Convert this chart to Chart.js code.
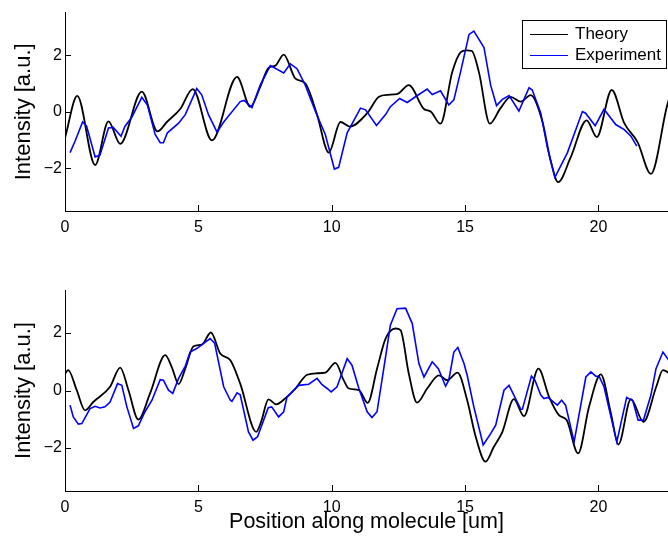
<!DOCTYPE html>
<html>
<head>
<meta charset="utf-8">
<script src="https://cdn.jsdelivr.net/npm/chart.js@4.4.1/dist/chart.umd.min.js"></script>
<style>
  body { margin: 0; background: #fff; }
  .panel { position: relative; width: 668px; }
</style>
</head>
<body>
<div class="panel" style="height:270px"><canvas id="topChart"></canvas></div>
<div class="panel" style="height:271px"><canvas id="bottomChart"></canvas></div>
<script>
// values, [position, intensity]
const seriesLabels = ['Theory', 'Experiment'];
const xLimits = [0, 22.61];
const yLimits = [-3.5, 3.5];
const xStep = 5;   // ticks 0 5 10 15 20
const yStep = 2;   // ticks -2 0 2

const topTheory = [
  [0,-0.92],[0.46,0.56],[1.13,-1.88],[1.63,-0.34],[2.07,-1.13],[2.88,0.71],[3.47,-0.69],
  [3.82,-0.36],[4.32,0.1],[4.79,0.80],[5.51,-1.01],[6.45,1.23],[6.95,0.18],[7.32,0.88],
  [7.63,1.55],[7.89,1.63],[8.20,2.02],[8.64,1.17],[9.01,1.0],[9.45,-0.1],[9.89,-1.44],
  [10.33,-0.36],[10.68,-0.52],[11.33,-0.05],[11.77,0.53],[12.1,0.60],[12.45,0.62],
  [12.89,0.94],[13.46,0.1],[13.71,0.01],[14.08,-0.42],[14.52,1.40],[14.83,2.10],
  [15.05,2.17],[15.25,2.15],[15.52,1.40],[15.93,-0.42],[16.33,0.13],[16.71,0.53],
  [17.09,0.36],[17.46,0.59],[17.9,-0.34],[18.21,-1.73],[18.49,-2.48],[18.96,-1.61],
  [19.56,-0.30],[19.94,-0.89],[20.5,0.77],[20.97,-0.40],[21.47,-1.07],[21.97,-2.19],
  [22.6,0.30],[23.0,1.2]
];
const topExperiment = [
  [0.19,-1.44],[0.38,-1.03],[0.66,-0.36],[0.81,-0.51],[1.13,-1.59],[1.31,-1.53],[1.63,-0.57],
  [1.81,-0.55],[2.10,-0.86],[2.25,-0.51],[2.50,-0.20],[2.88,0.51],[3.09,0.24],[3.38,-0.80],
  [3.57,-1.09],[3.69,-1.09],[3.84,-0.74],[4.26,-0.40],[4.51,-0.10],[4.94,0.82],[5.13,0.59],
  [5.38,-0.10],[5.70,-0.72],[5.95,-0.36],[6.57,0.36],[6.72,0.40],[7.01,0.15],[7.32,0.94],
  [7.70,1.63],[8.20,1.37],[8.45,1.69],[8.70,1.52],[9.01,0.94],[9.39,0.01],[9.76,-0.80],
  [10.10,-2.02],[10.26,-1.96],[10.58,-0.74],[11.08,0.13],[11.27,0.07],[11.68,-0.48],
  [12.02,-0.10],[12.20,0.18],[12.55,0.47],[12.83,0.33],[13.14,0.53],[13.58,0.80],[13.77,0.61],
  [14.08,0.74],[14.39,0.24],[14.58,0.42],[14.83,1.40],[15.15,2.73],[15.33,2.85],[15.71,2.27],
  [15.96,0.94],[16.18,0.22],[16.40,0.44],[16.65,0.57],[17.02,0.03],[17.40,0.85],[17.52,0.77],
  [17.84,-0.05],[18.09,-1.27],[18.37,-2.31],[18.84,-1.44],[19.40,0.01],[19.52,-0.05],
  [19.88,-0.49],[20.21,0.09],[20.65,-0.45],[20.97,-0.63],[21.22,-0.86],[21.44,-1.21]
];
const bottomTheory = [
  [0,0.59],[0.12,0.71],[0.44,0.01],[0.75,-0.69],[1.06,-0.40],[1.69,0.13],[2.07,0.80],
  [2.38,0.01],[2.75,-1.01],[3.19,-0.1],[3.76,1.23],[4.01,0.80],[4.26,0.22],[4.51,0.76],
  [4.82,1.54],[5.13,1.60],[5.47,2.02],[5.82,1.29],[6.20,1.05],[6.57,0.24],[7.17,-1.44],
  [7.35,-1.1],[7.63,-0.31],[7.92,-0.48],[8.32,-0.22],[8.64,0.07],[9.08,0.55],[9.45,0.60],
  [9.76,0.62],[10.14,0.96],[10.45,0.36],[10.64,0.07],[11.02,0.01],[11.35,-0.43],[11.70,0.76],
  [12.02,1.81],[12.39,2.16],[12.58,2.10],[12.89,0.59],[13.20,-0.42],[13.58,0.07],[14.02,0.53],
  [14.33,0.36],[14.72,0.62],[15.08,-0.34],[15.40,-1.61],[15.77,-2.48],[16.08,-1.96],
  [16.40,-1.44],[16.83,-0.30],[17.21,-0.89],[17.75,0.76],[18.15,-0.22],[18.52,-0.86],
  [18.81,-1.03],[19.24,-2.19],[19.65,-0.57],[20.09,0.56],[20.47,-0.80],[20.75,-1.88],
  [21.22,-0.30],[21.69,-1.09],[22.17,0.13],[22.42,0.71],[22.9,0.4]
];
const bottomExperiment = [
  [0.19,-0.51],[0.31,-0.92],[0.50,-1.17],[0.63,-1.15],[0.94,-0.63],[1.13,-0.55],[1.31,-0.61],
  [1.50,-0.57],[1.69,-0.40],[1.97,0.24],[2.13,0.18],[2.32,-0.57],[2.57,-1.32],[2.75,-1.23],
  [3.00,-0.74],[3.26,-0.34],[3.57,0.38],[3.69,0.36],[3.88,0.01],[4.04,-0.10],[4.26,0.42],
  [4.51,0.85],[4.69,1.34],[4.94,1.46],[5.19,1.63],[5.44,1.81],[5.61,1.65],[5.95,0.13],
  [6.20,-0.34],[6.26,-0.38],[6.45,-0.08],[6.57,-0.15],[6.88,-1.44],[7.05,-1.73],[7.22,-1.61],
  [7.62,-0.60],[7.75,-0.57],[8.01,-0.92],[8.20,-0.74],[8.32,-0.24],[8.76,0.18],[9.14,0.22],
  [9.45,0.42],[9.64,0.20],[9.83,0.07],[9.98,-0.05],[10.20,0.13],[10.58,1.11],[10.76,0.88],
  [11.02,0.07],[11.33,-0.74],[11.51,-0.94],[11.70,-0.74],[12.02,1.17],[12.20,2.27],
  [12.45,2.85],[12.77,2.87],[13.02,2.33],[13.27,0.94],[13.46,0.47],[13.77,1.0],[14.0,0.76],
  [14.27,0.15],[14.39,0.36],[14.58,1.34],[14.73,1.50],[14.96,0.94],[15.08,0.53],[15.33,-0.57],
  [15.68,-1.90],[15.96,-1.50],[16.15,-1.21],[16.46,0.01],[16.65,0.18],[16.83,-0.16],
  [17.09,-0.66],[17.15,-0.65],[17.49,0.50],[17.62,0.36],[17.84,-0.16],[17.96,-0.28],
  [18.11,-0.24],[18.46,-0.51],[18.62,-0.34],[18.77,-0.51],[19.09,-1.79],[19.53,0.47],
  [19.72,0.65],[19.90,0.50],[20.03,0.49],[20.21,0.13],[20.69,-1.79],[21.06,-0.24],
  [21.29,-0.36],[21.49,-1.03],[21.69,-1.03],[21.97,-0.16],[22.16,0.76],[22.42,1.34],
  [22.64,1.05],[22.8,0.7]
];

const FONT = "'Liberation Sans', Arial, Helvetica, sans-serif";
const toXY = arr => arr.map(p => ({x: p[0], y: p[1]}));

// MATLAB style tick marks pointing into the axes
const inwardTicks = {
    id: 'inwardTicks',
    afterDatasetsDraw(chart) {
        const {ctx, chartArea, scales} = chart;
        ctx.save();
        ctx.strokeStyle = '#000';
        ctx.lineWidth = 1;
        ctx.beginPath();
        scales.x.ticks.forEach(t => {
            const px = Math.round(scales.x.getPixelForValue(t.value)) + 0.5;
            ctx.moveTo(px, chartArea.bottom);
            ctx.lineTo(px, chartArea.bottom - 6);
        });
        scales.y.ticks.forEach(t => {
            const py = Math.round(scales.y.getPixelForValue(t.value)) + 0.5;
            ctx.moveTo(chartArea.left, py);
            ctx.lineTo(chartArea.left + 6, py);
        });
        ctx.stroke();
        ctx.restore();
    }
};

// boxed legend inside the top right corner
const boxLegend = {
    id: 'boxLegend',
    afterDraw(chart, args, opts) {
        if (!opts.show) return;
        const {ctx, chartArea} = chart;
        const w = 144, h = 48;
        const left = chartArea.right - 2 - w;
        const top = chartArea.top + 7;
        ctx.save();
        ctx.fillStyle = '#fff';
        ctx.fillRect(left, top, w, h);
        ctx.strokeStyle = '#000';
        ctx.lineWidth = 1;
        ctx.strokeRect(Math.round(left) + 0.5, Math.round(top) + 0.5, w, h);
        ctx.font = '17px ' + FONT;
        ctx.textBaseline = 'middle';
        ctx.fillStyle = '#000';
        const rows = [top + 14, top + 35];
        chart.data.datasets.forEach((ds, i) => {
            const yy = Math.round(rows[i]) + 0.5;
            ctx.strokeStyle = ds.borderColor;
            ctx.beginPath();
            ctx.moveTo(left + 8, yy);
            ctx.lineTo(left + 46, yy);
            ctx.stroke();
            ctx.fillText(ds.label, left + 53, rows[i] + 1);
        });
        ctx.restore();
    }
};

function makePanel(canvasId, theory, experiment, isBottom) {
    const ctx = document.getElementById(canvasId).getContext('2d');
    return new Chart(ctx, {
        type: 'line',
        data: {
            datasets: [{
                label: seriesLabels[0],
                data: toXY(theory),
                borderColor: '#000000',
                borderWidth: 1.8,
                pointRadius: 0,
                cubicInterpolationMode: 'monotone',
                order: 2
            }, {
                label: seriesLabels[1],
                data: toXY(experiment),
                borderColor: '#0000ff',
                borderWidth: 1.6,
                pointRadius: 0,
                tension: 0,
                order: 1
            }]
        },
        options: {
            responsive: true,
            maintainAspectRatio: false,
            animation: false,
            layout: { padding: { top: isBottom ? 20 : 10, left: 0, right: 0, bottom: 0 } },
            plugins: {
                legend: { display: false },
                tooltip: { enabled: false },
                boxLegend: { show: !isBottom }
            },
            scales: {
                x: {
                    type: 'linear',
                    min: xLimits[0],
                    max: xLimits[1],
                    grid: { display: false, drawTicks: false },
                    border: { display: true, color: '#000', width: 1 },
                    ticks: {
                        stepSize: xStep,
                        includeBounds: false,
                        maxRotation: 0,
                        padding: 7,
                        color: '#000',
                        font: { family: FONT, size: 16 }
                    },
                    title: {
                        display: isBottom,
                        text: 'Position along molecule [um]',
                        color: '#000',
                        font: { family: FONT, size: 21.5 },
                        padding: { top: 0, bottom: 6 }
                    },
                    afterFit: s => { s.height = isBottom ? 50 : 59; }
                },
                y: {
                    min: yLimits[0],
                    max: yLimits[1],
                    grid: { display: false, drawTicks: false },
                    border: { display: true, color: '#000', width: 1 },
                    ticks: {
                        stepSize: yStep,
                        includeBounds: false,
                        padding: 3,
                        color: '#000',
                        font: { family: FONT, size: 16 },
                        callback: v => v < 0 ? '\u2212' + Math.abs(v) : String(v)
                    },
                    title: {
                        display: true,
                        text: 'Intensity [a.u.]',
                        color: '#000',
                        font: { family: FONT, size: 22 },
                        padding: { top: 11, bottom: 0 }
                    },
                    afterFit: s => { s.width = 65; }
                }
            }
        },
        plugins: [inwardTicks, boxLegend]
    });
}

makePanel('topChart', topTheory, topExperiment, false);
makePanel('bottomChart', bottomTheory, bottomExperiment, true);
</script>
</body>
</html>
